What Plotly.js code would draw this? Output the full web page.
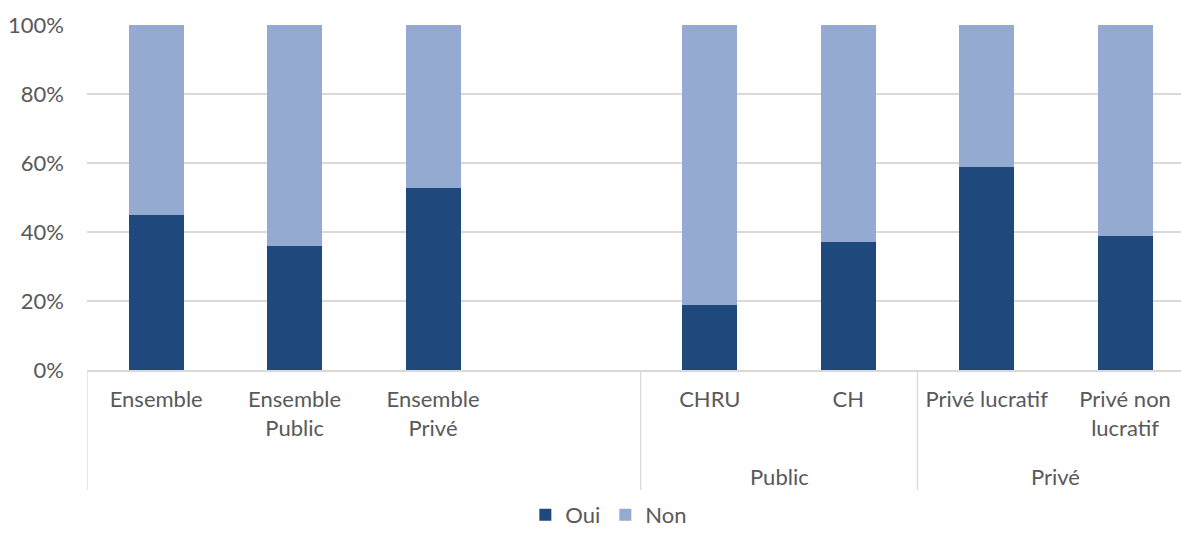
<!DOCTYPE html>
<html>
<head>
<meta charset="utf-8">
<script src="https://cdn.plot.ly/plotly-3.0.1.min.js"></script>
<style>html,body{margin:0;padding:0;background:#fff;}#chart{width:1181px;height:533px;}</style>
</head>
<body>
<div id="chart"></div>
<script>
// Data
const categories = ["Ensemble", "Ensemble<br>Public", "Ensemble<br>Privé", " ", "CHRU", "CH", "Privé lucratif", "Privé non<br>lucratif"];
const oui = [45, 36, 52.7, null, 18.8, 37.2, 58.9, 38.8];
const non = [55, 64, 47.3, null, 81.2, 62.8, 41.1, 61.2];
const groups = ["", "Public", "Privé"];
const groupStart = [0, 4, 6];
const groupEnd = [3, 5, 7];
const yTickVals = [0, 20, 40, 60, 80, 100];
const yTickText = ["0%", "20%", "40%", "60%", "80%", "100%"];

const FONT = "Lato, 'Open Sans', sans-serif";
const TXT = "#595959";
const GRID = "#d9d9d9";
const FS = 22;

const traces = [
  {type: "bar", name: "Oui", x: categories, y: oui, marker: {color: "#1f497d"}, width: 0.397},
  {type: "bar", name: "Non", x: categories, y: non, marker: {color: "#95aad1"}, width: 0.397}
];

const bottom = -120 / 345;
const shapes = [];
const annotations = [];
// group dividers
const dividers = [groupStart[0] - 0.5].concat(groupEnd.slice(0, -1).map(e => e + 0.5));
dividers.forEach(d => shapes.push({type: "line", xref: "x", yref: "paper", x0: d, x1: d, y0: 0, y1: bottom, line: {color: GRID, width: 1.3}}));
groups.forEach((g, i) => {
  if (!g) return;
  annotations.push({xref: "x", yref: "paper", x: (groupStart[i] + groupEnd[i]) / 2, y: -106 / 345, text: g, showarrow: false, font: {family: FONT, size: FS, color: TXT}, yanchor: "middle"});
});

const layout = {
  width: 1181, height: 533,
  margin: {l: 87, r: 0, t: 25, b: 163, autoexpand: false},
  paper_bgcolor: "#fff", plot_bgcolor: "#fff",
  barmode: "stack",
  bargap: 0,
  font: {family: FONT, size: FS, color: TXT},
  xaxis: {
    type: "category", categoryorder: "array", categoryarray: categories,
    range: [-0.5, 7.404], showgrid: false, zeroline: false, automargin: false,
    showline: true, linecolor: GRID, linewidth: 1.5,
    ticks: "", ticklabelstandoff: 9,
    tickfont: {family: FONT, size: FS, color: TXT}, fixedrange: true
  },
  yaxis: {
    range: [0, 100], tickvals: yTickVals, ticktext: yTickText, automargin: false,
    showgrid: true, gridcolor: GRID, gridwidth: 1.3, zeroline: false,
    showline: false, ticks: "", ticklabelstandoff: 22,
    tickfont: {family: FONT, size: FS, color: TXT}, fixedrange: true
  },
  showlegend: true,
  legend: {orientation: "h", x: 0.477, xanchor: "center", y: -0.42, yanchor: "middle", font: {family: FONT, size: FS, color: TXT}, traceorder: "normal"},
  shapes: shapes,
  annotations: annotations
};

Plotly.newPlot("chart", traces, layout, {staticPlot: true, displayModeBar: false});
</script>
</body>
</html>
